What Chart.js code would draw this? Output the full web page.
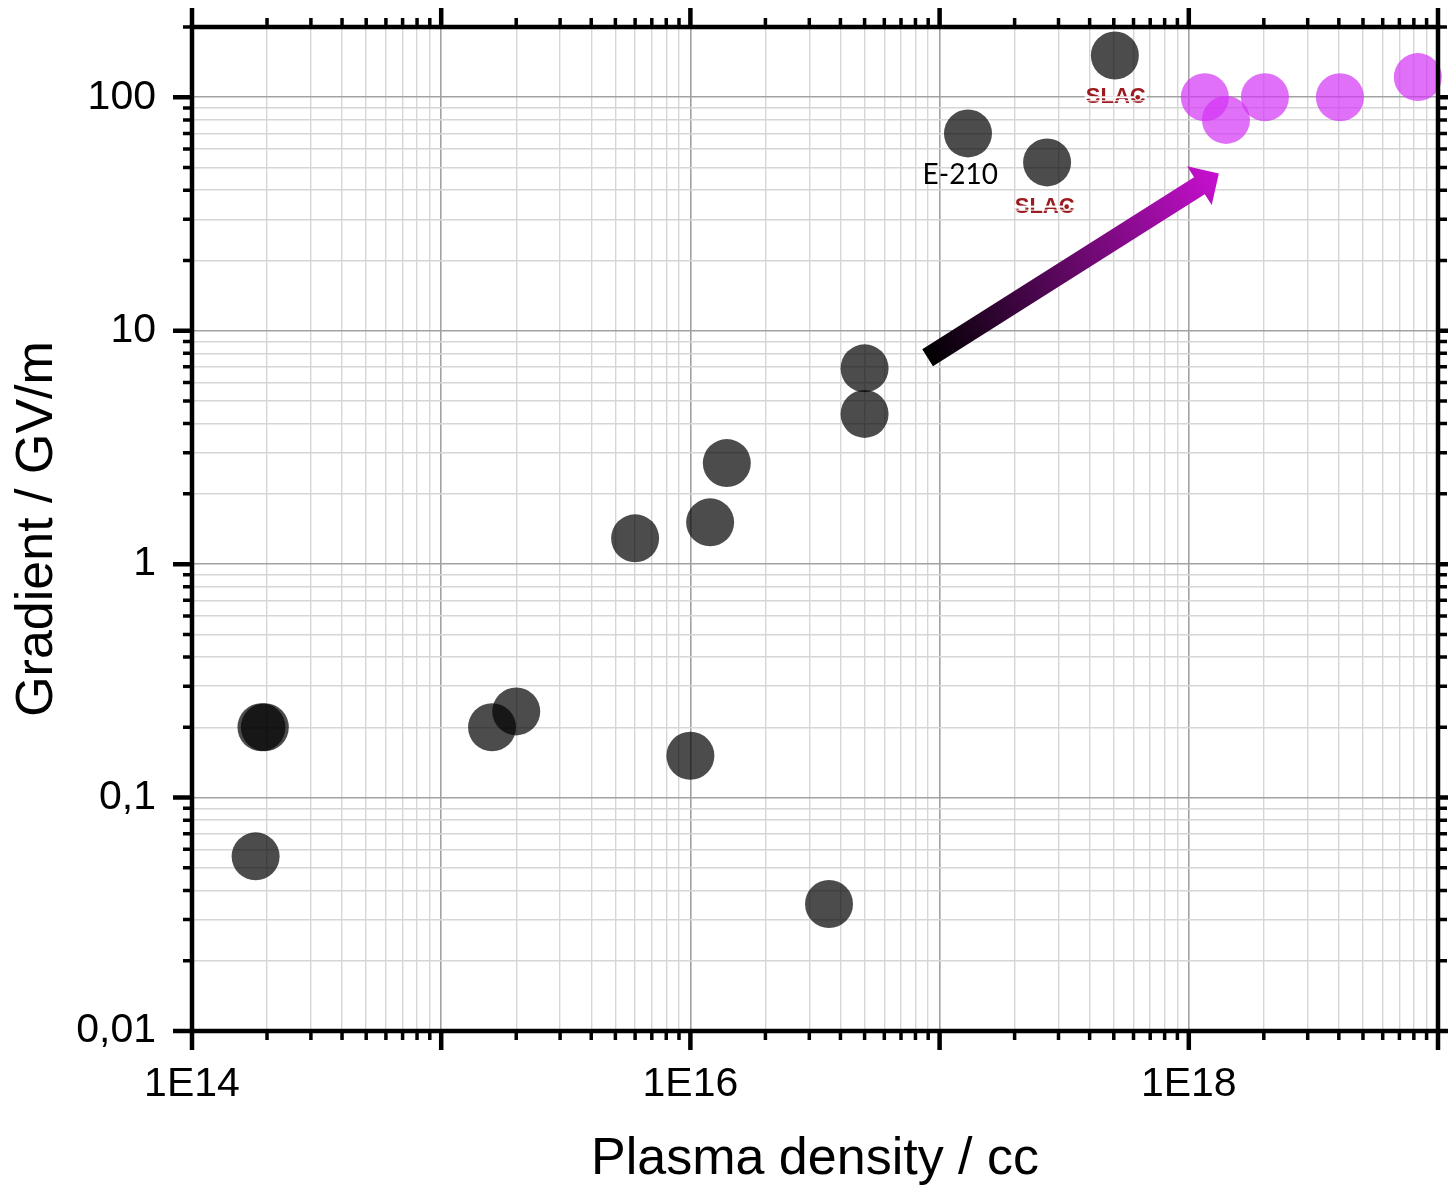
<!DOCTYPE html>
<html>
<head>
<meta charset="utf-8">
<script src="https://cdn.jsdelivr.net/npm/chart.js@4"></script>
<style>html,body{margin:0;padding:0;background:#fff}</style>
</head>
<body>
<canvas id="chart" width="1448" height="1186"></canvas>
<script>
// measured points, black = earlier experiments, pink = projected
const densityBlack = [1.8e14, 1.9e14, 1.96e14, 1.6e15, 2.0e15, 6.0e15, 1.0e16, 1.2e16, 1.4e16, 3.6e16, 5.0e16, 5.0e16, 1.3e17, 2.7e17, 5.05e17]
const gradientBlack = [0.056, 0.2, 0.2, 0.2, 0.234, 1.29, 0.151, 1.51, 2.71, 0.035, 6.9, 4.4, 70, 52.6, 151]
const densityPink = [1.16e18, 1.41e18, 2.02e18, 4.04e18, 8.3e18]
const gradientPink = [100, 80, 100, 100, 122]

const xLabelValues = [1e14, 1e16, 1e18]
const xLabels = ['1E14', '1E16', '1E18']
const yLabelValues = [0.01, 0.1, 1, 10, 100]
const yLabels = ['0,01', '0,1', '1', '10', '100']

const noteTexts = ['E-210', 'SLAC', 'SLAC']
const noteX = [1.21e17, 5.09e17, 2.64e17]
const noteY = [46.3, 100, 34]

const arrowFrom = [8.95e16, 7.66]
const arrowTo = [1.32e18, 47.2]

const FONT = 'Liberation Sans'

function logTicks(min, max) {
  const out = []
  for (let e = Math.floor(Math.log10(min)); e <= Math.ceil(Math.log10(max)); e++) {
    for (let m = 1; m <= 9; m++) {
      const v = m * Math.pow(10, e)
      if (v >= min * (1 - 1e-9) && v <= max * (1 + 1e-9)) out.push(v)
    }
  }
  return out
}
const isMajor = (v) => { const l = Math.log10(v); return Math.abs(l - Math.round(l)) < 1e-6 }
const labelFor = (vals, labels, value) => {
  const i = vals.findIndex((v) => Math.abs(v / value - 1) < 1e-6)
  return i >= 0 ? labels[i] : ''
}
const gridColor = (c) => (c.tick && isMajor(c.tick.value) ? '#a2a2a2' : '#d6d6d6')
const gridWidth = (c) => (c.tick && isMajor(c.tick.value) ? 1.6 : 1.4)
const noPad = (s) => { s.paddingTop = 0; s.paddingBottom = 0; s.paddingLeft = 0; s.paddingRight = 0 }

const decorations = {
  id: 'decorations',
  afterDatasetsDraw(chart) {
    const ctx = chart.ctx
    const { left, right, top, bottom } = chart.chartArea
    const xs = chart.scales.x, ys = chart.scales.y
    ctx.save()

    // arrow
    const x0 = xs.getPixelForValue(arrowFrom[0]), y0 = ys.getPixelForValue(arrowFrom[1])
    const x1 = xs.getPixelForValue(arrowTo[0]), y1 = ys.getPixelForValue(arrowTo[1])
    const len = Math.hypot(x1 - x0, y1 - y0)
    ctx.save()
    ctx.translate(x0, y0)
    ctx.rotate(Math.atan2(y1 - y0, x1 - x0))
    const g = ctx.createLinearGradient(0, 0, len, 0)
    g.addColorStop(0, '#000000')
    g.addColorStop(1, '#c810d0')
    ctx.fillStyle = g
    ctx.beginPath()
    ctx.moveTo(0, -10)
    ctx.lineTo(len - 23, -10)
    ctx.lineTo(len - 23, -23)
    ctx.lineTo(len, 0)
    ctx.lineTo(len - 23, 23)
    ctx.lineTo(len - 23, 10)
    ctx.lineTo(0, 10)
    ctx.closePath()
    ctx.fill()
    ctx.restore()

    // notes
    ctx.textAlign = 'center'
    ctx.textBaseline = 'middle'
    noteTexts.forEach((t, i) => {
      const px = xs.getPixelForValue(noteX[i]), py = ys.getPixelForValue(noteY[i])
      if (t === 'SLAC') {
        ctx.font = 'bold 22px "' + FONT + '"'
        ctx.fillStyle = '#9b1b20'
        ctx.fillText(t, px, py)
        ctx.fillStyle = '#ffffff'
        ctx.fillRect(px - 31, py - 1, 62, 2)
        ctx.fillRect(px - 31, py + 3, 62, 1)
        ctx.beginPath()
        ctx.arc(px + 22, py, 2.3, 0, Math.PI * 2)
        ctx.fillStyle = '#9b1b20'
        ctx.fill()
      } else {
        ctx.font = '28px Lato'
        ctx.fillStyle = '#000'
        ctx.fillText(t, px, py)
      }
    })

    // frame and ticks on all four sides
    ctx.strokeStyle = '#000'
    ctx.lineWidth = 4.5
    ctx.strokeRect(left, top, right - left, bottom - top)
    ctx.lineCap = 'butt'
    xs.ticks.forEach((t) => {
      const px = xs.getPixelForValue(t.value)
      const l = isMajor(t.value) ? 19 : 9
      ctx.lineWidth = isMajor(t.value) ? 4.5 : 3.5
      ctx.beginPath()
      ctx.moveTo(px, bottom); ctx.lineTo(px, bottom + l)
      ctx.moveTo(px, top); ctx.lineTo(px, top - l)
      ctx.stroke()
    })
    ys.ticks.forEach((t) => {
      const py = ys.getPixelForValue(t.value)
      const l = isMajor(t.value) ? 19 : 9
      ctx.lineWidth = isMajor(t.value) ? 4.5 : 3.5
      ctx.beginPath()
      ctx.moveTo(left, py); ctx.lineTo(left - l, py)
      ctx.moveTo(right, py); ctx.lineTo(right + l, py)
      ctx.stroke()
    })
    ctx.restore()
  }
}

new Chart(document.getElementById('chart'), {
  type: 'scatter',
  data: {
    datasets: [
      {
        data: densityBlack.map((d, i) => ({ x: d, y: gradientBlack[i] })),
        backgroundColor: 'rgba(0,0,0,0.7)',
        borderWidth: 0,
        pointRadius: 24,
        pointHoverRadius: 24,
        clip: false,
      },
      {
        data: densityPink.map((d, i) => ({ x: d, y: gradientPink[i] })),
        backgroundColor: 'rgba(211,51,245,0.7)',
        borderWidth: 0,
        pointRadius: 24,
        pointHoverRadius: 24,
        clip: false,
      },
    ],
  },
  options: {
    responsive: false,
    animation: false,
    events: [],
    layout: { autoPadding: false, padding: { top: 27, right: 10, left: 0, bottom: 0 } },
    plugins: { legend: { display: false }, tooltip: { enabled: false } },
    scales: {
      x: {
        type: 'logarithmic',
        min: 1e14,
        max: 1e19,
        afterBuildTicks: (s) => { s.ticks = logTicks(1e14, 1e19).map((v) => ({ value: v })) },
        afterFit: (s) => { s.height = 155; noPad(s) },
        border: { display: false },
        grid: { color: gridColor, lineWidth: gridWidth, drawTicks: false },
        ticks: {
          autoSkip: false, maxRotation: 0, padding: 29, color: '#000',
          font: { family: FONT, size: 41 },
          callback: (v) => labelFor(xLabelValues, xLabels, v),
        },
        title: {
          display: true, text: 'Plasma density / cc', color: '#000',
          font: { family: FONT, size: 52, lineHeight: 1 }, padding: { top: 0, bottom: 0 },
        },
      },
      y: {
        type: 'logarithmic',
        min: 0.01,
        max: 200,
        afterBuildTicks: (s) => { s.ticks = logTicks(0.01, 200).map((v) => ({ value: v })) },
        afterFit: (s) => { s.width = 192; noPad(s) },
        border: { display: false },
        grid: { color: gridColor, lineWidth: gridWidth, drawTicks: false },
        ticks: {
          autoSkip: false, padding: 36, color: '#000',
          font: { family: FONT, size: 41 },
          callback: (v) => labelFor(yLabelValues, yLabels, v),
        },
        title: {
          display: true, text: 'Gradient / GV/m', color: '#000',
          font: { family: FONT, size: 52, lineHeight: 1 }, padding: { top: 12, bottom: 0 },
        },
      },
    },
  },
  plugins: [decorations],
})
</script>
</body>
</html>
